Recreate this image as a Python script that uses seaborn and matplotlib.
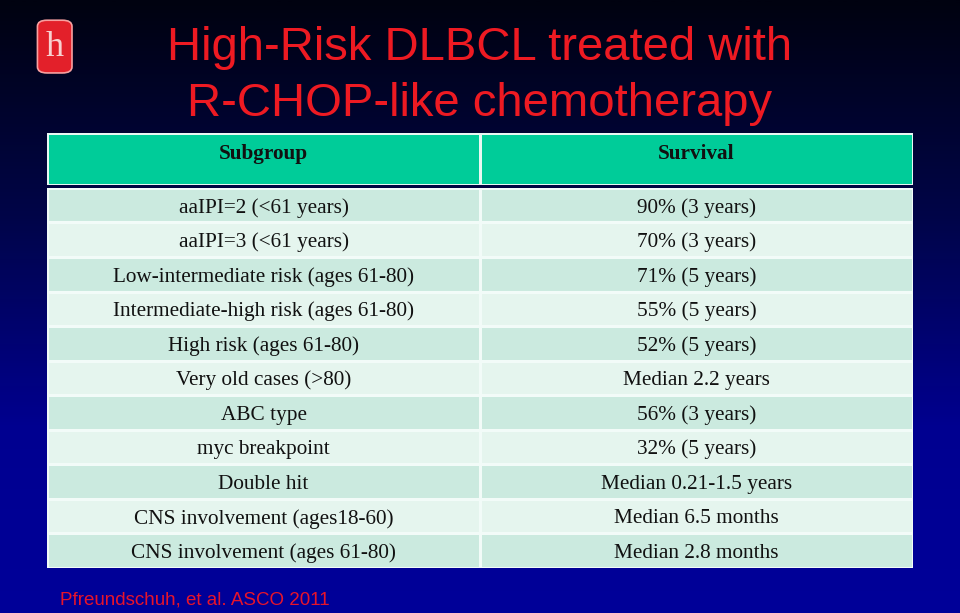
import seaborn as sns
import matplotlib.pyplot as plt
import numpy as np
import pandas as pd
from matplotlib.colors import ListedColormap, LinearSegmentedColormap
from matplotlib.patches import FancyBboxPatch

# Data
title_lines = ['High-Risk DLBCL treated with', 'R-CHOP-like chemotherapy']
col_headers = ['Subgroup', 'Survival']
subgroups = ['aaIPI=2 (<61 years)', 'aaIPI=3 (<61 years)', 'Low-intermediate risk (ages 61-80)',
             'Intermediate-high risk (ages 61-80)', 'High risk (ages 61-80)', 'Very old cases (>80)',
             'ABC type', 'myc breakpoint', 'Double hit', 'CNS involvement (ages18-60)',
             'CNS involvement (ages 61-80)']
survival = ['90% (3 years)', '70% (3 years)', '71% (5 years)', '55% (5 years)', '52% (5 years)',
            'Median 2.2 years', '56% (3 years)', '32% (5 years)', 'Median 0.21-1.5 years',
            'Median 6.5 months', 'Median 2.8 months']
source = 'Pfreundschuh, et al. ASCO 2011'

table = pd.DataFrame({'Subgroup': subgroups, 'Survival': survival})
shade = np.array([[i % 2, i % 2] for i in range(len(table))])

fig = plt.figure(figsize=(9.6, 6.13), dpi=100)

# gradient background
bg = fig.add_axes([0, 0, 1, 1])
grad = np.linspace(0, 1, 300).reshape(-1, 1)
bg_cmap = LinearSegmentedColormap.from_list('bg', [(0, '#000210'), (0.35, '#000548'), (0.7, '#000090'), (1, '#000099')])
bg.imshow(grad, aspect='auto', cmap=bg_cmap, extent=[0, 1, 0, 1], origin='upper')
bg.set_axis_off()

# title
bg.text(0.5, 0.922, title_lines[0], ha='center', va='center', color='#EE1A22',
        fontsize=34, family='Liberation Sans')
bg.text(0.5, 0.830, title_lines[1], ha='center', va='center', color='#EE1A22',
        fontsize=34, family='Liberation Sans')

# footer
bg.text(0.062, 0.022, source, ha='left', va='center', color='#E8142A',
        fontsize=13.5, family='Liberation Sans')

# logo
logo = FancyBboxPatch((0.041, 0.883), 0.032, 0.082, boxstyle='round,pad=0.002,rounding_size=0.01',
                      facecolor='#E3202A', edgecolor='#F7A0A0', linewidth=1.2, transform=bg.transAxes)
bg.add_patch(logo)
bg.text(0.057, 0.923, 'h', ha='center', va='center', color='#F8D0D0', fontsize=26,
        family='Liberation Serif')

# header row
ax_h = fig.add_axes([0.049, 0.698, 0.902, 0.085])
sns.heatmap(np.zeros((1, 2)), ax=ax_h, cmap=ListedColormap(['#00CC99']), cbar=False,
            linewidths=2, linecolor='#E8F8F2')
for j, h in enumerate(col_headers):
    ax_h.text(j + 0.5, 0.36, h, ha='center', va='center_baseline', fontsize=15.3, fontweight='bold',
              family='Liberation Serif', color='#111111')
ax_h.set_xticks([])
ax_h.set_yticks([])

# body rows
ax_b = fig.add_axes([0.049, 0.0734, 0.902, 0.620])
sns.heatmap(shade, ax=ax_b, cmap=ListedColormap(['#CBEADF', '#E5F5EE']), cbar=False,
            annot=table.values, fmt='', linewidths=2, linecolor='#F2FBF8',
            annot_kws={'fontsize': 15.3, 'family': 'Liberation Serif', 'color': '#111111',
                       'va': 'center_baseline'})
ax_b.set_xticks([])
ax_b.set_yticks([])
ax_b.set_xlabel('')
ax_b.set_ylabel('')

plt.savefig('out.png', dpi=100)
